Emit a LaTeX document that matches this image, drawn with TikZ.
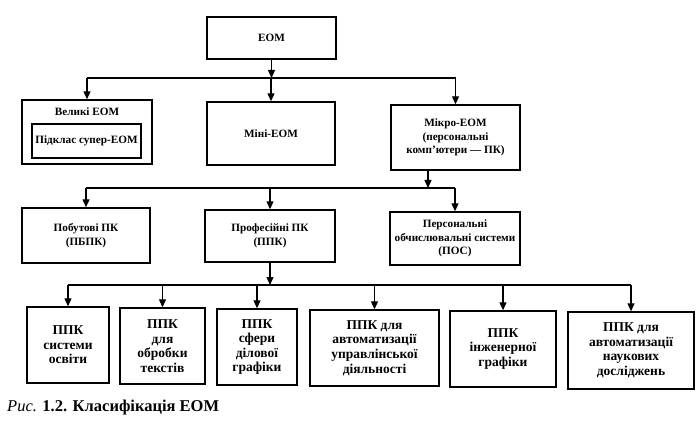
\documentclass[tikz,border=0pt]{standalone}
\usepackage{fontspec}
\setmainfont{Liberation Serif}
\usetikzlibrary{arrows.meta}
\tikzset{
  box/.style={draw, line width=1.4pt, align=center, inner sep=2pt, font=\bfseries\fontsize{11.2}{13.5}\selectfont},
  lowbox/.style={draw, line width=1.4pt, align=center, inner sep=2pt, font=\bfseries\fontsize{13.5}{14.5}\selectfont},
  bus/.style={line width=1.2pt},
  arr/.style={line width=1.2pt, -{Triangle[length=8pt,width=7pt]}},
}
\begin{document}
\begin{tikzpicture}[x=1pt,y=-1pt]
\useasboundingbox (0,0) rectangle (700,430);
% level 1
\node[box, minimum width=129pt, minimum height=42pt] (eom) at (271.5,38) {ЕОМ};
\node[box, minimum width=130pt, minimum height=64pt] (big) at (87,132) {};
\node[font=\bfseries\fontsize{11.2}{13.5}\selectfont] (bigt) at (87,112) {Великі ЕОМ};
\node[box, minimum width=109pt, minimum height=34pt] (super) at (86.5,141) {Підклас супер-ЕОМ};
\node[box, minimum width=128pt, minimum height=63pt] (mini) at (271,133.5) {Міні-ЕОМ};
\node[box, minimum width=129pt, minimum height=65pt] (micro) at (455.5,137.5) {Мікро-ЕОМ\\(персональні\\комп’ютери — ПК)};
% level 2
\node[box, minimum width=128pt, minimum height=55pt] (pob) at (86,235.5) {Побутові ПК\\(ПБПК)};
\node[box, minimum width=130pt, minimum height=52pt] (prof) at (270,236) {Професійні ПК\\(ППК)};
\node[box, minimum width=130pt, minimum height=53pt] (pers) at (455,238.5) {Персональні\\обчислювальні системи\\(ПОС)};
% level 3
\node[lowbox, minimum width=82pt, minimum height=76pt] (c1) at (68,345) {ППК\\системи\\освіти};
\node[lowbox, minimum width=85pt, minimum height=76pt] (c2) at (162.5,346) {ППК\\для\\обробки\\текстів};
\node[lowbox, minimum width=80pt, minimum height=76pt] (c3) at (257,347) {ППК\\сфери\\ділової\\графіки};
\node[lowbox, minimum width=129pt, minimum height=76pt] (c4) at (374.5,348) {ППК для\\автоматизації\\управлінської\\діяльності};
\node[lowbox, minimum width=106pt, minimum height=76pt] (c5) at (503,349) {ППК\\інженерної\\графіки};
\node[lowbox, minimum width=126pt, minimum height=77pt] (c6) at (631,350.5) {ППК для\\автоматизації\\наукових\\досліджень};
% bus 1
\coordinate (b1L) at (87,78);
\coordinate (b1R) at (456,78);
\draw[bus] (b1L) -- (b1R);
\draw[arr] (eom.south) -- (eom.south |- b1L);
\draw[arr] (big.north |- b1L) -- (big.north);
\draw[arr] (mini.north |- b1L) -- (mini.north);
\draw[arr] (micro.north |- b1R) -- (micro.north);
% bus 2
\coordinate (b2L) at (86,188);
\coordinate (b2R) at (455,188);
\coordinate (m2) at (428,170);
\draw[bus] (b2L) -- (b2R);
\draw[arr] (m2) -- (m2 |- b2L);
\draw[arr] (pob.north |- b2L) -- (pob.north);
\draw[arr] (prof.north |- b2L) -- (prof.north);
\draw[arr] (pers.north |- b2R) -- (pers.north);
% bus 3
\coordinate (b3L) at (68,285);
\coordinate (b3R) at (631,285);
\draw[bus] (b3L) -- (b3R);
\draw[arr] (prof.south) -- (prof.south |- b3L);
\foreach \c in {c1,c2,c3,c4,c5,c6}{
  \draw[arr] (\c.north |- b3L) -- (\c.north);
}
% caption
\node[anchor=west, inner sep=0pt, font=\fontsize{16.5}{18}\selectfont] (cap) at (7,408) {\textit{Рис.} \textbf{1.2. Класифікація ЕОМ}};
\end{tikzpicture}
\end{document}
